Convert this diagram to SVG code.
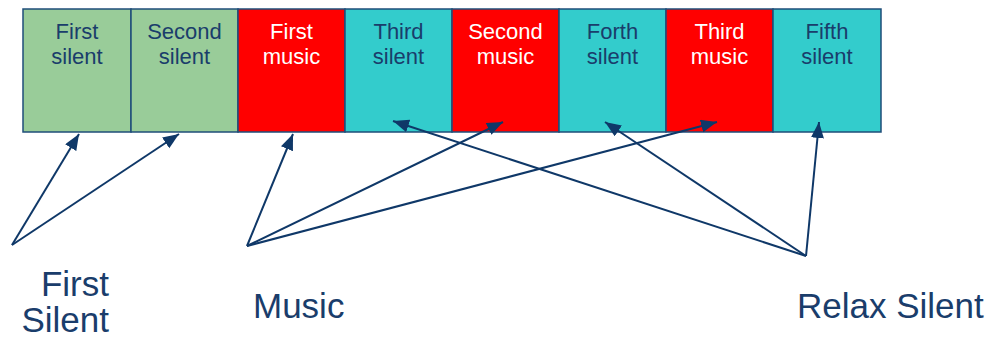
<svg xmlns="http://www.w3.org/2000/svg" width="987" height="339" viewBox="0 0 987 339">
<style>
.box{stroke:#1f4e79;stroke-width:1.5}
.g{fill:#99cc99}.r{fill:#ff0000}.c{fill:#33cccc}
.t{font-family:"Liberation Sans",Arial,sans-serif;font-size:22px;text-anchor:middle;fill:#1a3d6b}
.w{fill:#ffffff}
.lbl{font-family:"Liberation Sans",Arial,sans-serif;font-size:35px;fill:#1a3d6b}
.ln{stroke:#0f3868;stroke-width:2;fill:none;marker-end:url(#ah)}
</style>
<defs>
<marker id="ah" markerUnits="userSpaceOnUse" markerWidth="18" markerHeight="14" refX="16" refY="6.5" orient="auto">
<path d="M0,0 L16,6.5 L0,13 z" fill="#0f3868"/>
</marker>
</defs>
<rect width="987" height="339" fill="#ffffff"/>
<g id="n1"><rect class="box g" x="23" y="9" width="108" height="123"/><text class="t" x="77" y="39">First</text><text class="t" x="77" y="64">silent</text></g>
<g id="n2"><rect class="box g" x="131" y="9" width="107" height="123"/><text class="t" x="184.5" y="39">Second</text><text class="t" x="184.5" y="64">silent</text></g>
<g id="n3"><rect class="box r" x="238" y="9" width="107" height="123"/><text class="t w" x="291.5" y="39">First</text><text class="t w" x="291.5" y="64">music</text></g>
<g id="n4"><rect class="box c" x="345" y="9" width="107" height="123"/><text class="t" x="398.5" y="39">Third</text><text class="t" x="398.5" y="64">silent</text></g>
<g id="n5"><rect class="box r" x="452" y="9" width="107" height="123"/><text class="t w" x="505.5" y="39">Second</text><text class="t w" x="505.5" y="64">music</text></g>
<g id="n6"><rect class="box c" x="559" y="9" width="107" height="123"/><text class="t" x="612.5" y="39">Forth</text><text class="t" x="612.5" y="64">silent</text></g>
<g id="n7"><rect class="box r" x="666" y="9" width="107" height="123"/><text class="t w" x="719.5" y="39">Third</text><text class="t w" x="719.5" y="64">music</text></g>
<g id="n8"><rect class="box c" x="773" y="9" width="108" height="123"/><text class="t" x="827" y="39">Fifth</text><text class="t" x="827" y="64">silent</text></g>
<g id="l1"><text class="lbl" x="109" y="296" text-anchor="end">First</text><text class="lbl" x="109" y="332" text-anchor="end">Silent</text></g>
<g id="l2"><text class="lbl" x="253" y="318">Music</text></g>
<g id="l3"><text class="lbl" x="797" y="318">Relax Silent</text></g>
<g id="connectors">
<line class="ln" x1="12" y1="245" x2="79" y2="134"/>
<line class="ln" x1="12" y1="245" x2="179" y2="134"/>
<line class="ln" x1="247" y1="246" x2="293" y2="134"/>
<line class="ln" x1="247" y1="246" x2="503" y2="122"/>
<line class="ln" x1="247" y1="246" x2="717" y2="122"/>
<line class="ln" x1="806" y1="256" x2="393" y2="121"/>
<line class="ln" x1="806" y1="256" x2="605" y2="122"/>
<line class="ln" x1="806" y1="256" x2="819" y2="122"/>
</g>
</svg>
